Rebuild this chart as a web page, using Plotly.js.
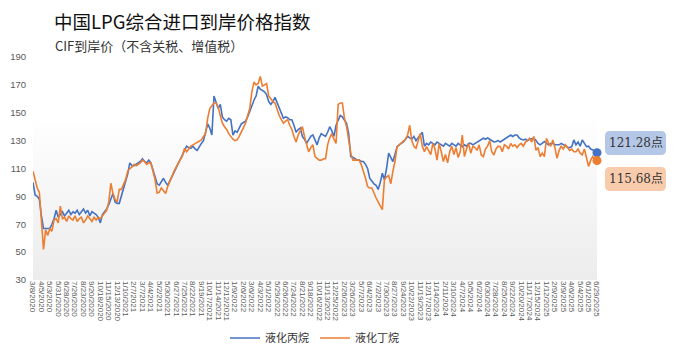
<!DOCTYPE html>
<html>
<head>
<meta charset="utf-8">
<script src="https://cdn.plot.ly/plotly-3.0.1.min.js"></script>
<style>html,body{margin:0;padding:0;background:#fff;}#chart{width:679px;height:352px;}</style>
</head>
<body>
<div id="chart"></div>
<script>
const seriesNames = ['液化丙烷', '液化丁烷'];
const propane = [
100, 91, 90, 88, 76, 67, 67, 67, 67, 70,
74, 80, 75, 77, 79, 76, 78, 80, 77, 79,
78, 80, 77, 79, 81, 78, 80, 76, 79, 78,
77, 75, 71, 77, 79, 81, 84, 88, 92, 86,
85, 85, 90, 95, 100, 106, 114, 112, 112, 113,
114, 115, 117, 115, 114, 116, 114, 109, 104, 99,
98, 101, 103, 100, 98, 101, 104, 108, 111, 114,
117, 120, 123, 126, 125, 124.5, 126, 124, 123, 126,
128, 130, 136, 142, 139, 134, 162, 157, 153, 156,
147, 145, 144, 146, 145, 134, 137, 136, 139, 142,
143, 144, 147, 151, 156, 159, 162, 169, 167, 166,
165, 163, 158, 156, 158, 161, 157, 153, 149, 146,
147, 146.5, 145, 145, 141, 136, 138, 139, 133, 131,
128, 131, 133, 134, 130, 127, 132, 135, 134, 133,
136, 140, 137, 133, 141, 145, 148, 147, 145, 142.5,
135, 118.5, 118, 117, 116, 116, 115, 115, 113, 110,
103, 101, 99, 98, 95, 100, 106.6, 102, 110, 121,
118, 115, 120, 125.7, 127, 128, 129, 131, 133, 132,
131, 133, 130, 132, 134, 136, 126, 128, 127, 129,
128, 127, 129, 128, 127, 126, 128, 127, 126, 128,
127, 126, 128, 127, 125.7, 127, 126, 128, 128, 127,
128, 129, 130, 131, 131.7, 131, 132, 131, 130, 129,
129.3, 130, 129, 130, 131, 132, 133, 134, 133, 134,
134, 132, 131, 130.5, 131, 130, 131, 131.5, 131.7, 130,
128, 127, 128, 129.3, 128, 127, 128, 128.1, 127, 126.9,
127, 128, 127, 126, 125.3, 125, 125.7, 130.5, 127, 129,
126, 130.5, 128, 125.7, 126, 124, 123.3, 122, 121.28
];
const butane = [
108, 101, 96, 93, 70, 52, 66, 62, 67, 65,
73, 74, 71, 83, 74, 75, 72, 76, 74, 73,
76, 72, 74, 75, 71, 73, 76, 74, 72, 75,
73, 75, 74, 76, 78, 80, 86, 99.4, 92, 88,
86, 95, 95, 98, 102, 108, 110, 111, 113, 112,
113, 114, 116, 115, 113, 114, 114, 108, 102, 92.3,
93, 96, 94, 92, 97, 101, 104, 108, 111, 114,
116, 119, 124.5, 122, 124, 126, 127, 128, 129, 130,
130.5, 133, 135, 146, 153, 155, 157, 157, 154, 148,
142.5, 140, 138, 135, 133, 131, 130, 130.5, 133, 136,
140, 142.5, 148, 153, 165, 172, 170, 171, 176, 169,
170, 171, 162, 160, 158, 157, 152, 148, 145, 142.5,
144, 145, 141, 138, 133, 129, 134, 137, 140, 133,
127, 122, 125, 127, 118.5, 117, 116, 116, 117, 117,
127, 132, 135, 131, 128, 156, 157, 157, 146, 140,
130, 121, 116, 116, 116, 116, 112.6, 108, 103, 97,
96, 96, 92, 89, 86, 83, 80.5, 102, 104, 105,
99, 108, 115, 125.7, 127, 128, 130, 131, 134, 141,
130, 126, 124.5, 130, 135, 126, 122, 125.7, 123, 120,
128, 124, 116, 128, 122, 115, 120, 114, 122, 126,
120, 125, 118, 122, 134, 118.5, 124, 128, 121, 126,
125, 123, 127, 119.7, 118.5, 124, 126, 130, 122, 119.7,
124, 126, 125.7, 122, 127, 126, 124, 128, 126, 127,
125, 127, 128, 126, 129, 130, 131.7, 129, 133, 123,
125, 118.5, 121, 118.5, 131.7, 128, 126, 130.5, 125, 117.4,
123, 126, 124, 127, 125, 123, 124, 122, 122, 124,
121, 119.7, 124, 118, 111.5, 116, 118.5, 116, 115.68
];
const tickLabels = [
'3/8/2020','4/5/2020','5/3/2020','5/31/2020','6/28/2020','7/26/2020','8/23/2020','9/20/2020','10/18/2020','11/15/2020','12/13/2020',
'1/10/2021','2/7/2021','3/7/2021','4/4/2021','5/2/2021','5/30/2021','6/27/2021','7/25/2021','8/22/2021','9/19/2021','10/17/2021','11/14/2021','12/12/2021',
'1/9/2022','2/6/2022','3/6/2022','4/3/2022','5/1/2022','5/29/2022','6/26/2022','7/24/2022','8/21/2022','9/18/2022','10/16/2022','11/13/2022','12/25/2022',
'2/26/2023','3/26/2023','5/7/2023','6/4/2023','7/2/2023','7/30/2023','8/27/2023','9/24/2023','10/22/2023','11/19/2023','12/17/2023',
'1/14/2024','2/11/2024','3/10/2024','4/7/2024','5/5/2024','6/2/2024','6/30/2024','7/28/2024','8/25/2024','9/22/2024','10/20/2024','11/17/2024','12/15/2024',
'1/12/2025','2/9/2025','3/9/2025','4/6/2025','5/4/2025','6/1/2025','6/29/2025'
];
const titleText = '中国LPG综合进口到岸价格指数';
const subtitleText = 'CIF到岸价（不含关税、增值税）';

const colors = ['#4472c4', '#ed7d31'];
const boxFills = ['#b4c7e7', '#f8cbad'];
const idx = propane.map((_, i) => i);
const lastI = idx.length - 1;
const tickStep = 4;
const tickVals = tickLabels.map((_, k) => k * tickStep);

// plot geometry (pixels)
const W = 679, H = 352;
const M = {l: 33, r: 82, t: 57, b: 72};
const pw = W - M.l - M.r, ph = H - M.t - M.b;
const px2x = p => (p - M.l) / pw;
const px2y = p => (H - M.b - p) / ph;
function roundRect(x0, y0, x1, y1, r) {
  const X = px2x, Y = px2y;
  return `M${X(x0 + r)},${Y(y0)} L${X(x1 - r)},${Y(y0)} Q${X(x1)},${Y(y0)} ${X(x1)},${Y(y0 + r)} ` +
    `L${X(x1)},${Y(y1 - r)} Q${X(x1)},${Y(y1)} ${X(x1 - r)},${Y(y1)} L${X(x0 + r)},${Y(y1)} ` +
    `Q${X(x0)},${Y(y1)} ${X(x0)},${Y(y1 - r)} L${X(x0)},${Y(y0 + r)} Q${X(x0)},${Y(y0)} ${X(x0 + r)},${Y(y0)} Z`;
}

const allSeries = [propane, butane];
const traces = [];
allSeries.forEach((s, k) => {
  traces.push({
    x: idx, y: s, type: 'scatter', mode: 'lines', name: seriesNames[k],
    line: {color: colors[k], width: 1.6}, hoverinfo: 'skip'
  });
});
allSeries.forEach((s, k) => {
  traces.push({
    x: [idx[lastI]], y: [s[lastI]], type: 'scatter', mode: 'markers', showlegend: false,
    marker: {color: colors[k], size: 9}, cliponaxis: false, hoverinfo: 'skip'
  });
});

const bg = "data:image/svg+xml;utf8," + encodeURIComponent(
  "<svg xmlns='http://www.w3.org/2000/svg' width='100' height='100' preserveAspectRatio='none' viewBox='0 0 100 100'>" +
  "<defs><linearGradient id='g' x1='0' y1='0' x2='0' y2='1'><stop offset='0.25' stop-color='#ffffff'/><stop offset='1' stop-color='#ececec'/></linearGradient></defs>" +
  "<rect width='100' height='100' fill='url(#g)'/></svg>");

const boxes = [[605, 131, 666, 155], [605, 167, 666, 191]];
const shapes = boxes.map((b, k) => ({
  type: 'path', xref: 'paper', yref: 'paper', path: roundRect(b[0], b[1], b[2], b[3], 5),
  fillcolor: boxFills[k], line: {width: 0}, layer: 'above'
}));
const annotations = boxes.map((b, k) => ({
  xref: 'paper', yref: 'paper', x: px2x((b[0] + b[2]) / 2), y: px2y((b[1] + b[3]) / 2),
  text: allSeries[k][lastI].toFixed(2) + '点', showarrow: false,
  font: {family: 'DejaVu Serif, Noto Sans CJK SC', size: 12, color: '#333'},
  xanchor: 'center', yanchor: 'middle'
}));
annotations.push({
  xref: 'paper', yref: 'paper', x: px2x(52), y: px2y(21), xanchor: 'left', yanchor: 'middle',
  text: titleText, showarrow: false,
  font: {family: 'Noto Sans CJK SC', size: 18.5, color: '#111'}
});
annotations.push({
  xref: 'paper', yref: 'paper', x: px2x(53), y: px2y(45), xanchor: 'left', yanchor: 'middle',
  text: subtitleText, showarrow: false,
  font: {family: 'Noto Sans CJK SC', size: 13, color: '#333'}
});

const layout = {
  width: W, height: H,
  margin: M,
  paper_bgcolor: '#ffffff', plot_bgcolor: 'rgba(0,0,0,0)',
  showlegend: true,
  legend: {orientation: 'h', x: 0.5, xanchor: 'center', yref: 'container', y: (H - 338) / H, yanchor: 'middle',
    font: {family: 'Noto Sans CJK SC', size: 11, color: '#333'}, itemwidth: 30,
    entrywidth: 45, entrywidthmode: 'pixels'},
  xaxis: {
    range: [0, lastI], tickmode: 'array', tickvals: tickVals, ticktext: tickLabels,
    tickangle: 90, tickfont: {family: 'Liberation Sans', size: 8, color: '#595959'},
    showgrid: false, zeroline: false, showline: false, ticks: '', fixedrange: true, automargin: false
  },
  yaxis: {
    range: [30, 190], dtick: 20, tick0: 30, showgrid: false, zeroline: false, showline: false,
    tickfont: {family: 'Liberation Sans', size: 9.5, color: '#595959'}, ticklabelstandoff: 6, automargin: false
  },
  images: [{source: bg, xref: 'paper', yref: 'paper', x: 0, y: 1, sizex: 1, sizey: 1,
    xanchor: 'left', yanchor: 'top', sizing: 'stretch', layer: 'below'}],
  shapes: shapes,
  annotations: annotations
};
Plotly.newPlot('chart', traces, layout, {displayModeBar: false, staticPlot: true});
</script>
</body>
</html>
